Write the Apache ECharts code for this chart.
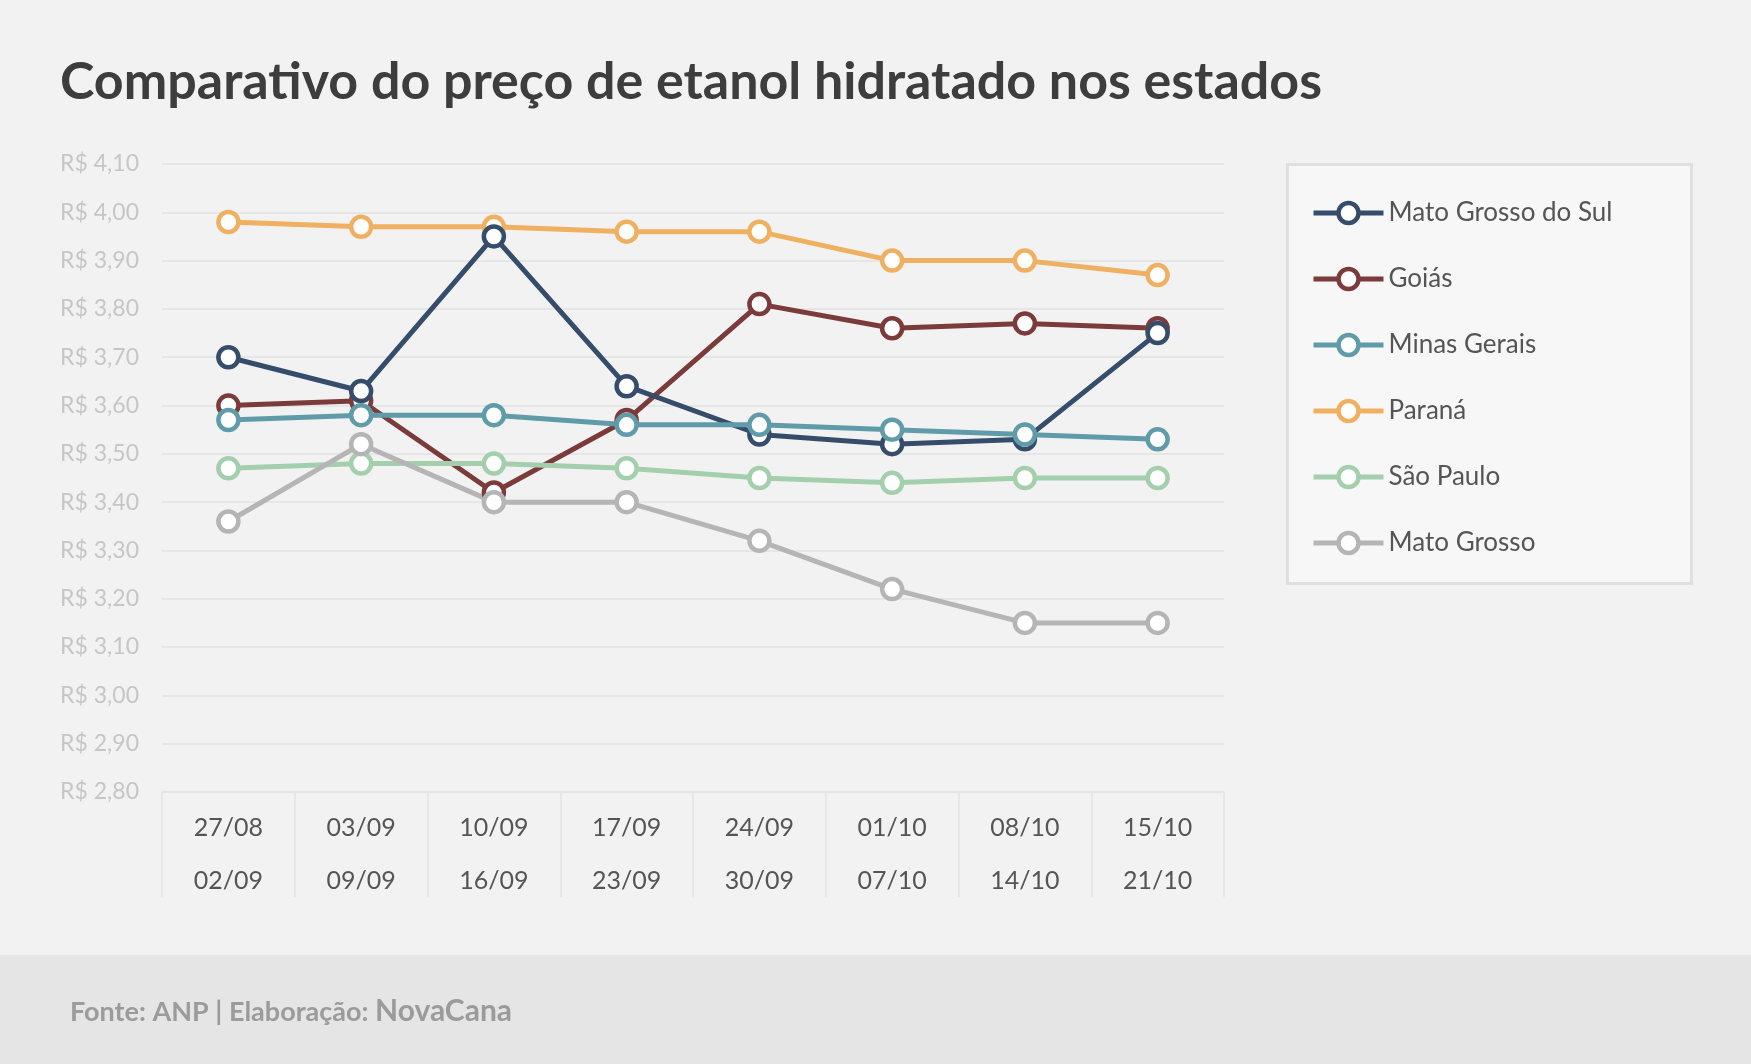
<!DOCTYPE html>
<html><head><meta charset="utf-8">
<script src="https://cdn.jsdelivr.net/npm/echarts@6/dist/echarts.min.js"></script>
<style>html,body{margin:0;padding:0;background:#f2f2f2}#c{width:1751px;height:1064px}</style>
</head><body><div id="c"></div>
<script>
const weekStart = ['27/08','03/09','10/09','17/09','24/09','01/10','08/10','15/10'];
const weekEnd   = ['02/09','09/09','16/09','23/09','30/09','07/10','14/10','21/10'];
const matoGrossoDoSul = [3.70,3.63,3.95,3.64,3.54,3.52,3.53,3.75];
const goias           = [3.60,3.61,3.42,3.57,3.81,3.76,3.77,3.76];
const minasGerais     = [3.57,3.58,3.58,3.56,3.56,3.55,3.54,3.53];
const parana          = [3.98,3.97,3.97,3.96,3.96,3.90,3.90,3.87];
const saoPaulo        = [3.47,3.48,3.48,3.47,3.45,3.44,3.45,3.45];
const matoGrosso      = [3.36,3.52,3.40,3.40,3.32,3.22,3.15,3.15];
const legendOrder = ['Mato Grosso do Sul','Goiás','Minas Gerais','Paraná','São Paulo','Mato Grosso'];
const yMin = 2.8, yMax = 4.1, yStep = 0.1;

const FONT = 'Lato';
const categories = weekStart.map((s, i) => s + '\n' + weekEnd[i]);

function mk(name, data, color) {
  return {
    name, type: 'line', data,
    symbol: 'circle', symbolSize: 20,
    lineStyle: { color: color, width: 5 },
    itemStyle: { color: '#ffffff', borderColor: color, borderWidth: 4.5 },
    emphasis: { disabled: true },
    animation: false
  };
}

const chart = echarts.init(document.getElementById('c'));
chart.setOption({
  backgroundColor: '#f2f2f2',
  animation: false,
  textStyle: { fontFamily: FONT },
  title: {
    text: 'Comparativo do preço de etanol hidratado nos estados',
    left: 60, top: 56, padding: 0,
    textStyle: { fontFamily: FONT, fontWeight: 'bold', fontSize: 52, color: '#3d3d3d' }
  },
  graphic: [
    { type: 'rect', left: 0, top: 955, z: -10, shape: { width: 1751, height: 109 }, style: { fill: '#e5e5e5' } },
    { type: 'rect', left: 1286, top: 163, z: -10, shape: { width: 404, height: 419 }, style: { fill: '#f7f7f7', stroke: '#e0e0e0', lineWidth: 3 } },
    { type: 'text', left: 70, top: 996, style: {
        text: '{a|Fonte: ANP | Elaboração: }{b|NovaCana}',
        rich: {
          a: { fontFamily: FONT, fontWeight: 'bold', fontSize: 27, fill: '#9b9b9b', verticalAlign: 'bottom' },
          b: { fontFamily: FONT, fontWeight: 'bold', fontSize: 30, fill: '#9b9b9b', verticalAlign: 'bottom' }
        }
    } }
  ],
  legend: {
    data: legendOrder,
    orient: 'vertical',
    left: 1311, top: 198,
    itemWidth: 70, itemHeight: 25, itemGap: 36,
    padding: 0,
    selectedMode: false,
    lineStyle: { width: 5 },
    itemStyle: { borderWidth: 4.5 },
    textStyle: { fontFamily: FONT, fontSize: 26, color: '#555555', lineHeight: 30 }
  },
  grid: { left: 162, right: 527, top: 164, bottom: 272, containLabel: false },
  xAxis: {
    type: 'category', data: categories, boundaryGap: true,
    axisLine: { show: true, lineStyle: { color: '#e3e3e3', width: 1.5 } },
    axisTick: { show: true, length: 105, interval: 0, lineStyle: { color: '#e3e3e3', width: 1.5 } },
    axisLabel: { interval: 0, margin: 9, fontFamily: FONT, fontSize: 25, color: '#555555', lineHeight: 53 },
    splitLine: { show: false }
  },
  yAxis: {
    type: 'value', min: yMin, max: yMax, interval: yStep,
    axisLine: { show: false }, axisTick: { show: false },
    axisLabel: { margin: 23, fontFamily: FONT, fontSize: 23, color: '#c6c6c6',
      formatter: v => 'R$ ' + v.toFixed(2).replace('.', ',') },
    splitLine: { lineStyle: { color: '#e2e2e2', width: 1.5 } }
  },
  series: [
    mk('Paraná', parana, '#efb161'),
    mk('Goiás', goias, '#7c3b3b'),
    mk('Mato Grosso do Sul', matoGrossoDoSul, '#354d6b'),
    mk('Minas Gerais', minasGerais, '#5f9ba8'),
    mk('São Paulo', saoPaulo, '#a4cfad'),
    mk('Mato Grosso', matoGrosso, '#b5b5b5')
  ]
});
</script></body></html>
